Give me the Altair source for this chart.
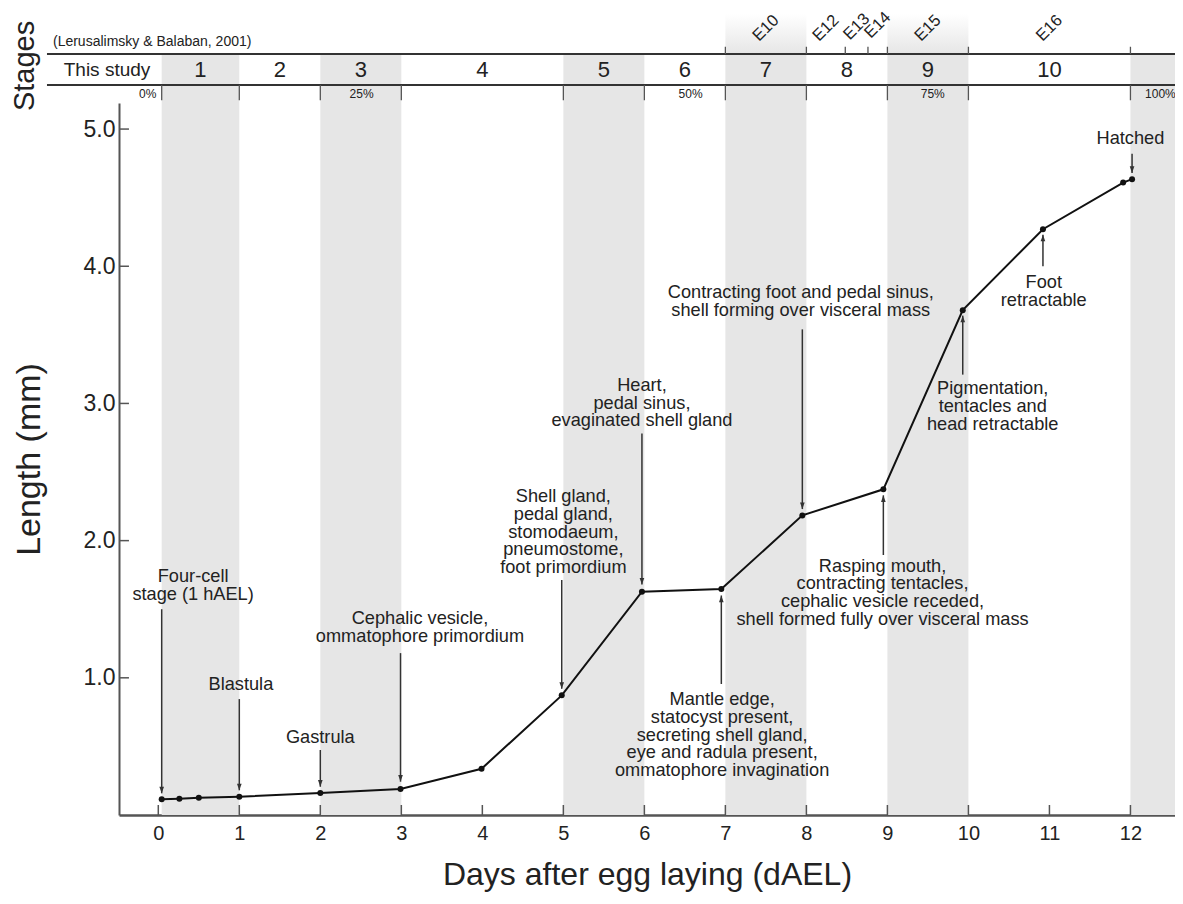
import altair as alt
import pandas as pd

# ---------------- data ----------------
days = [0.042, 0.26, 0.5, 1.0, 2.0, 2.99, 3.99, 4.98, 5.97, 6.95, 7.95, 8.95, 9.93, 10.92, 11.91, 12.02]
length_mm = [0.114, 0.119, 0.126, 0.133, 0.16, 0.19, 0.337, 0.872, 1.628, 1.647, 2.184, 2.374, 3.68, 4.27, 4.61, 4.635]

stage_names = ["1", "2", "3", "4", "5", "6", "7", "8", "9", "10"]
stage_start = [0.042, 1, 2, 3, 5, 6, 7, 8, 9, 10]
stage_end = [1, 2, 3, 5, 6, 7, 8, 9, 10, 12]
stage_shaded = [1, 0, 1, 0, 1, 0, 1, 0, 1, 0]

e_names = ["E10", "E12", "E13", "E14", "E15", "E16"]
e_start = [7, 8, 8.48, 8.76, 9, 10]
e_end = [8, 8.48, 8.76, 9, 10, 12]
e_shaded = [1, 0, 0, 0, 1, 0]

pct_labels = ["0%", "25%", "50%", "75%", "100%"]
pct_x = [-0.13, 2.51, 6.57, 9.56, 12.37]

x_ticks = list(range(13))
y_ticks = [1, 2, 3, 4, 5]

ann_text = [
    "Four-cell\nstage (1 hAEL)",
    "Blastula",
    "Gastrula",
    "Cephalic vesicle,\nommatophore primordium",
    "Shell gland,\npedal gland,\nstomodaeum,\npneumostome,\nfoot primordium",
    "Heart,\npedal sinus,\nevaginated shell gland",
    "Mantle edge,\nstatocyst present,\nsecreting shell gland,\neye and radula present,\nommatophore invagination",
    "Contracting foot and pedal sinus,\nshell forming over visceral mass",
    "Rasping mouth,\ncontracting tentacles,\ncephalic vesicle receded,\nshell formed fully over visceral mass",
    "Pigmentation,\ntentacles and\nhead retractable",
    "Foot\nretractable",
    "Hatched",
]
ann_x = [0.43, 1.02, 2.0, 3.23, 5.0, 5.97, 6.96, 7.93, 8.94, 10.3, 10.93, 12.0]
# y of the first line of each annotation
ann_y = [1.737, 0.948, 0.559, 1.426, 2.318, 3.129, 0.838, 3.802, 1.810, 3.103, 3.875, 4.925]
arrow_x = [0.042, 1.0, 2.0, 2.99, 4.98, 5.97, 6.95, 7.95, 8.95, 9.93, 10.92, 12.02]
arrow_from = [1.50, 0.845, 0.474, 1.18, 1.713, 2.78, 0.955, 3.54, 1.895, 3.21, 4.0, 4.82]
arrow_to = [0.158, 0.18, 0.206, 0.243, 0.92, 1.68, 1.60, 2.23, 2.33, 3.64, 4.23, 4.68]
arrow_dir = ["down", "down", "down", "down", "down", "down", "up", "down", "up", "up", "up", "down"]

# ---------------- layout constants ----------------
X_MIN, X_MAX = -0.485, 12.55
Y_MIN, Y_MAX = 0.0, 5.19
HDR_TOP = 5.547
HDR_BOT = 5.321
LINE_START = -1.374
GRAY = "#e6e6e6"
INK = "#222222"
FONT = "Liberation Sans"

xs = alt.Scale(domain=[X_MIN, X_MAX], nice=False, zero=False)
ys = alt.Scale(domain=[Y_MIN, Y_MAX], nice=False, zero=False)

xaxis = alt.Axis(values=x_ticks, format="d", ticks=False, grid=False,
                 domainColor="#555555", domainWidth=2.5,
                 labelFont=FONT, labelFontSize=20, labelColor=INK, labelPadding=8,
                 title="Days after egg laying (dAEL)", titleFont=FONT, titleFontSize=32,
                 titleFontWeight="normal", titleColor=INK, titlePadding=16)
yaxis = alt.Axis(values=y_ticks, format=".1f", ticks=False, grid=False,
                 domainColor="#555555", domainWidth=2,
                 labelFont=FONT, labelFontSize=23, labelColor=INK, labelPadding=4,
                 title="Length (mm)", titleFont=FONT, titleFontSize=34,
                 titleFontWeight="normal", titleColor=INK, titlePadding=37)


def X(f="x"):
    return alt.X(f"{f}:Q", scale=xs, axis=xaxis)


def Y(f="y"):
    return alt.Y(f"{f}:Q", scale=ys, axis=yaxis)


# stage bands (plot + header row)
bands_df = pd.DataFrame({"x": stage_start, "x2": stage_end, "shaded": stage_shaded})
bands_df = bands_df[bands_df.shaded == 1].copy()
bands_df = pd.concat([bands_df, pd.DataFrame({"x": [12], "x2": [X_MAX], "shaded": [1]})])
bands_df["y"] = Y_MIN
bands_df["y2"] = HDR_TOP
bands = alt.Chart(bands_df).mark_rect(color=GRAY).encode(x=X(), x2="x2:Q", y=Y(), y2="y2:Q")

# gradient shading in E row
grad = alt.LinearGradient(gradient="linear",
                          stops=[alt.GradientStop(color="#ffffff", offset=0),
                                 alt.GradientStop(color=GRAY, offset=1)],
                          x1=0, x2=0, y1=0, y2=1)
eg_df = pd.DataFrame({"x": e_start, "x2": e_end, "s": e_shaded})
eg_df = eg_df[eg_df.s == 1].copy()
eg_df["y"] = HDR_TOP
eg_df["y2"] = 5.84
egrad = alt.Chart(eg_df).mark_rect(fill=grad).encode(x=X(), x2="x2:Q", y=Y(), y2="y2:Q")

# header lines
hl_df = pd.DataFrame({"x": [LINE_START, LINE_START], "x2": [X_MAX, X_MAX], "y": [HDR_TOP, HDR_BOT]})
hlines = alt.Chart(hl_df).mark_rule(color="#333333", strokeWidth=2).encode(x=X(), x2="x2:Q", y=Y())

# ticks below header (stage boundaries)
sb = sorted(set(stage_start + stage_end))
sb_df = pd.DataFrame({"x": sb, "y": [HDR_BOT] * len(sb), "y2": [5.21] * len(sb)})
sbticks = alt.Chart(sb_df).mark_rule(color="#555555", strokeWidth=1.3).encode(x=X(), y=Y(), y2="y2:Q")

# ticks above header (E stages)
eb = sorted(set(e_start + e_end))
eb_df = pd.DataFrame({"x": eb, "y": [HDR_TOP] * len(eb), "y2": [5.60] * len(eb)})
ebticks = alt.Chart(eb_df).mark_rule(color="#555555", strokeWidth=1.3).encode(x=X(), y=Y(), y2="y2:Q")

# stage numbers
sn_df = pd.DataFrame({"x": [(a + b) / 2 for a, b in zip(stage_start, stage_end)],
                      "y": [5.43] * 10, "t": stage_names})
snums = alt.Chart(sn_df).mark_text(font=FONT, fontSize=22, color=INK, baseline="middle").encode(
    x=X(), y=Y(), text="t:N")

# E labels
el_df = pd.DataFrame({"x": [(a + b) / 2 for a, b in zip(e_start, e_end)],
                      "y": [5.736, 5.736, 5.746, 5.758, 5.736, 5.736], "t": e_names})
elabels = alt.Chart(el_df).mark_text(font=FONT, fontSize=16.5, color=INK, angle=315,
                                     baseline="middle", align="center").encode(x=X(), y=Y(), text="t:N")

# percent labels
pc_df = pd.DataFrame({"x": pct_x, "y": [5.253] * 5, "t": pct_labels})
pcts = alt.Chart(pc_df).mark_text(font=FONT, fontSize=12, color=INK, baseline="middle").encode(
    x=X(), y=Y(), text="t:N")

# header texts
this_df = pd.DataFrame({"x": [-0.633], "y": [5.43], "t": ["This study"]})
this_txt = alt.Chart(this_df).mark_text(font=FONT, fontSize=19, color=INK, baseline="middle").encode(
    x=X(), y=Y(), text="t:N")
ler_df = pd.DataFrame({"x": [-1.30], "y": [5.636], "t": ["(Lerusalimsky & Balaban, 2001)"]})
ler_txt = alt.Chart(ler_df).mark_text(font=FONT, fontSize=14, color=INK, baseline="middle",
                                      align="left").encode(x=X(), y=Y(), text="t:N")
stg_df = pd.DataFrame({"x": [-1.64], "y": [5.46], "t": ["Stages"]})
stg_txt = alt.Chart(stg_df).mark_text(font=FONT, fontSize=29, color=INK, baseline="middle",
                                      align="center", angle=270).encode(x=X(), y=Y(), text="t:N")

# inward axis ticks
xt_df = pd.DataFrame({"x": x_ticks, "y": [0.0] * 13, "y2": [0.073] * 13})
xticks = alt.Chart(xt_df).mark_rule(color="#555555", strokeWidth=1.5).encode(x=X(), y=Y(), y2="y2:Q")
yt_df = pd.DataFrame({"x": [X_MIN] * 5, "x2": [X_MIN + 0.123] * 5, "y": y_ticks})
yticks = alt.Chart(yt_df).mark_rule(color="#555555", strokeWidth=1.5).encode(x=X(), x2="x2:Q", y=Y())

# growth curve
g_df = pd.DataFrame({"x": days, "y": length_mm})
gline = alt.Chart(g_df).mark_line(color="#111111", strokeWidth=2).encode(x=X(), y=Y())
gpts = alt.Chart(g_df).mark_point(filled=True, color="#111111", size=36, opacity=1,
                                  shape="circle").encode(x=X(), y=Y())

# arrows
ar_df = pd.DataFrame({"x": arrow_x, "y": arrow_from, "y2": arrow_to, "d": arrow_dir})
arules = alt.Chart(ar_df).mark_rule(color="#333333", strokeWidth=1.5).encode(x=X(), y=Y(), y2="y2:Q")
heads_down = alt.Chart(ar_df[ar_df.d == "down"]).mark_point(
    shape="M-0.7,-2L0,0L0.7,-2Z", filled=True, color="#333333", size=44, opacity=1).encode(
    x=X(), y=Y("y2"))
heads_up = alt.Chart(ar_df[ar_df.d == "up"]).mark_point(
    shape="M-0.7,2L0,0L0.7,2Z", filled=True, color="#333333", size=44, opacity=1).encode(
    x=X(), y=Y("y2"))

# annotation texts
an_df = pd.DataFrame({"x": ann_x, "y": ann_y, "t": ann_text})
atext = alt.Chart(an_df).mark_text(font=FONT, fontSize=18.2, lineHeight=17.8, color=INK,
                                   baseline="middle", align="center", lineBreak="\n").encode(
    x=X(), y=Y(), text="t:N")

chart = alt.layer(
    bands, egrad, hlines, sbticks, ebticks, snums, elabels, pcts, this_txt, ler_txt, stg_txt,
    xticks, yticks, arules, heads_down, heads_up, gline, gpts, atext
).properties(
    width=1056, height=712,
    autosize=alt.AutoSizeParams(type="none"),
    padding={"left": 111, "top": 95, "right": 0, "bottom": 78},
    background="white",
).configure_view(stroke=None)

chart.save("out.html", embed_options={"renderer": "svg", "actions": False})
